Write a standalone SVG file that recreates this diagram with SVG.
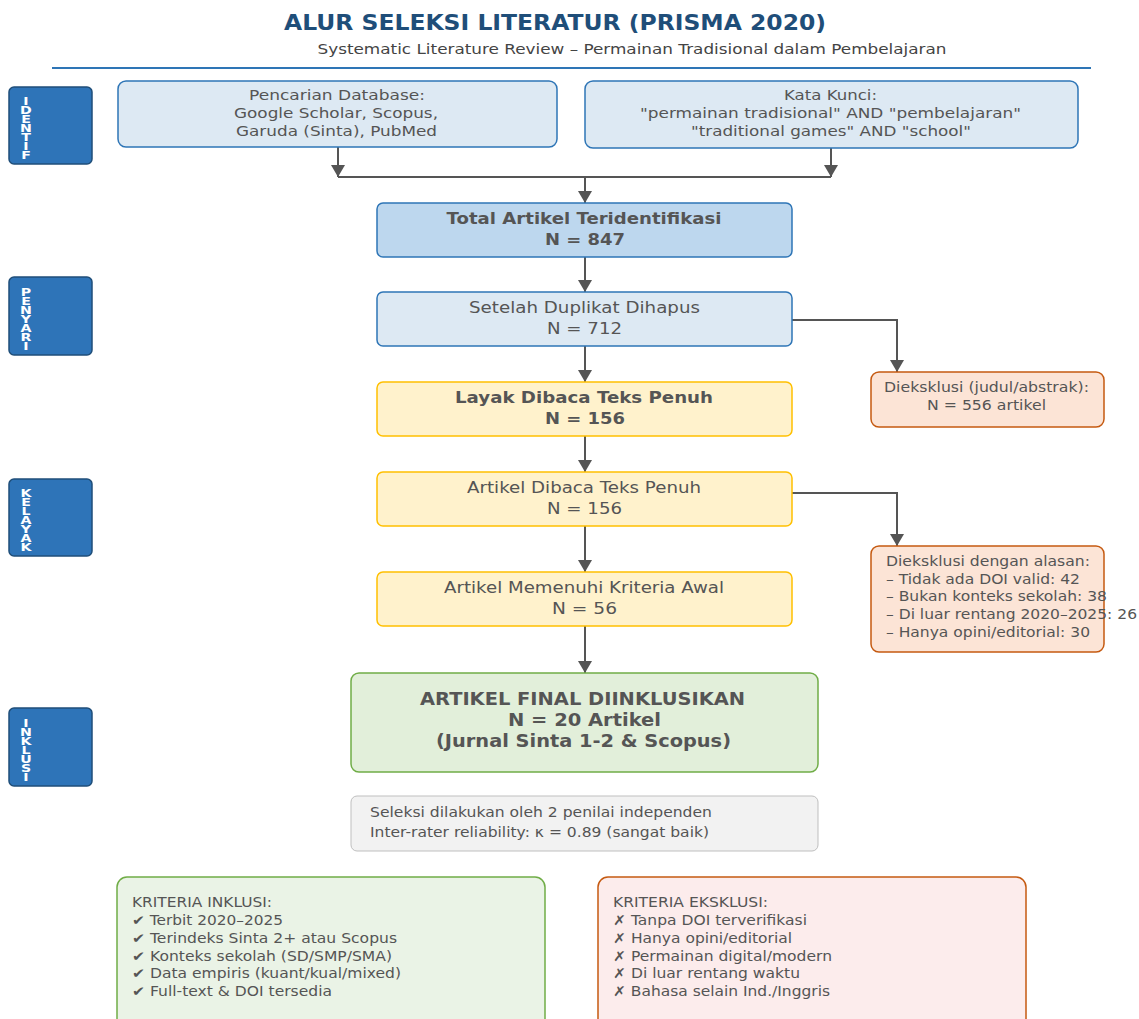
<svg xmlns="http://www.w3.org/2000/svg" width="1139" height="1019" viewBox="0 0 1139 1019">
<defs>
<marker id="ah" markerWidth="12" markerHeight="14" refX="12" refY="7" orient="auto" markerUnits="userSpaceOnUse" viewBox="0 0 12 14">
<path d="M0,0 L12,7 L0,14 Z" fill="#555"/>
</marker>
<style>
text{font-family:"DejaVu Sans","Liberation Sans",sans-serif;fill:#555}
.c{text-anchor:middle}
.b{font-weight:bold}
.tab rect{fill:#2e74b8;stroke:#1f4e79;stroke-width:1.5}
.tab text{fill:#fff;font-weight:bold;font-size:10.5px;writing-mode:vertical-rl;text-orientation:upright}
.blue rect{fill:#dde9f3;stroke:#2e75b6;stroke-width:1.5}
.blue2 rect{fill:#bdd7ee;stroke:#2e75b6;stroke-width:1.5}
.yel rect{fill:#fff2cc;stroke:#ffc000;stroke-width:1.5}
.org rect{fill:#fce4d6;stroke:#c55a11;stroke-width:1.5}
.grn rect{fill:#e2efda;stroke:#70ad47;stroke-width:1.5}
.gry rect{fill:#f2f2f2;stroke:#bfbfbf;stroke-width:1}
.m{font-size:15px}
.s{font-size:14px}
.t{font-size:13.5px}
.conn path{fill:none;stroke:#555;stroke-width:2}
</style>
</defs>
<rect width="1139" height="1019" fill="#fff"/>
<g id="title">
<text x="555" y="30" class="c b" style="font-size:22px;fill:#1f4e79" textLength="542" lengthAdjust="spacingAndGlyphs">ALUR SELEKSI LITERATUR (PRISMA 2020)</text>
<text x="632" y="54" class="c" style="font-size:14px;fill:#444" textLength="629" lengthAdjust="spacingAndGlyphs">Systematic Literature Review – Permainan Tradisional dalam Pembelajaran</text>
<line x1="52" y1="68" x2="1091" y2="68" stroke="#2e75b6" stroke-width="2"/>
</g>
<g id="tab-identifikasi" class="tab"><rect x="9" y="87" width="83" height="77" rx="5"/>
<text x="26" y="95" textLength="67" lengthAdjust="spacing" transform="translate(26,0) scale(1.35,1) translate(-26,0)">IDENTIF</text></g>
<g id="tab-penyaringan" class="tab"><rect x="9" y="277" width="83" height="78" rx="5"/>
<text x="26" y="286" textLength="67" lengthAdjust="spacing" transform="translate(26,0) scale(1.35,1) translate(-26,0)">PENYARI</text></g>
<g id="tab-kelayakan" class="tab"><rect x="9" y="479" width="83" height="77" rx="5"/>
<text x="26" y="487" textLength="67" lengthAdjust="spacing" transform="translate(26,0) scale(1.35,1) translate(-26,0)">KELAYAK</text></g>
<g id="tab-inklusi" class="tab"><rect x="9" y="708" width="83" height="78" rx="5"/>
<text x="26" y="717" textLength="67" lengthAdjust="spacing" transform="translate(26,0) scale(1.35,1) translate(-26,0)">INKLUSI</text></g>

<g id="connectors" class="conn">
<path d="M338,177 H831"/>
<path d="M338,147 V177" marker-end="url(#ah)"/>
<path d="M831,148 V177" marker-end="url(#ah)"/>
<path d="M585,177 V203" marker-end="url(#ah)"/>
<path d="M585,257 V292" marker-end="url(#ah)"/>
<path d="M585,346 V382" marker-end="url(#ah)"/>
<path d="M585,436 V472" marker-end="url(#ah)"/>
<path d="M585,526 V572" marker-end="url(#ah)"/>
<path d="M585,626 V673" marker-end="url(#ah)"/>
<path d="M792,320 H897 V372" marker-end="url(#ah)"/>
<path d="M792,493 H897 V546" marker-end="url(#ah)"/>
</g>

<g id="db" class="blue"><rect x="118" y="81" width="439" height="66" rx="8"/>
<text class="c s" x="337" y="100" textLength="176" lengthAdjust="spacingAndGlyphs">Pencarian Database:</text>
<text class="c s" x="336" y="118" textLength="204" lengthAdjust="spacingAndGlyphs">Google Scholar, Scopus,</text>
<text class="c s" x="336.5" y="136" textLength="201" lengthAdjust="spacingAndGlyphs">Garuda (Sinta), PubMed</text></g>
<g id="keywords" class="blue"><rect x="585" y="81" width="493" height="67" rx="8"/>
<text class="c s" x="830.5" y="100" textLength="93" lengthAdjust="spacingAndGlyphs">Kata Kunci:</text>
<text class="c s" x="830.5" y="118" textLength="381" lengthAdjust="spacingAndGlyphs">"permainan tradisional" AND "pembelajaran"</text>
<text class="c s" x="831" y="136" textLength="280" lengthAdjust="spacingAndGlyphs">"traditional games" AND "school"</text></g>
<g id="total" class="blue2"><rect x="377" y="203" width="415" height="54" rx="6"/>
<text class="c m b" x="584" y="224" textLength="275" lengthAdjust="spacingAndGlyphs">Total Artikel Teridentifikasi</text>
<text class="c m b" x="585" y="245" textLength="80" lengthAdjust="spacingAndGlyphs">N = 847</text></g>
<g id="dedup" class="blue"><rect x="377" y="292" width="415" height="54" rx="6"/>
<text class="c m" x="584.5" y="313" textLength="231" lengthAdjust="spacingAndGlyphs">Setelah Duplikat Dihapus</text>
<text class="c m" x="584.5" y="334" textLength="75" lengthAdjust="spacingAndGlyphs">N = 712</text></g>
<g id="excl1" class="org"><rect x="871" y="372" width="233" height="55" rx="8"/>
<text class="c t" x="986.5" y="392" textLength="205" lengthAdjust="spacingAndGlyphs">Dieksklusi (judul/abstrak):</text>
<text class="c t" x="986.5" y="410" textLength="119" lengthAdjust="spacingAndGlyphs">N = 556 artikel</text></g>
<g id="layak" class="yel"><rect x="377" y="382" width="415" height="54" rx="6"/>
<text class="c m b" x="584" y="403" textLength="258" lengthAdjust="spacingAndGlyphs">Layak Dibaca Teks Penuh</text>
<text class="c m b" x="585" y="424" textLength="80" lengthAdjust="spacingAndGlyphs">N = 156</text></g>
<g id="dibaca" class="yel"><rect x="377" y="472" width="415" height="54" rx="6"/>
<text class="c m" x="584" y="493" textLength="234" lengthAdjust="spacingAndGlyphs">Artikel Dibaca Teks Penuh</text>
<text class="c m" x="584.5" y="514" textLength="75" lengthAdjust="spacingAndGlyphs">N = 156</text></g>
<g id="excl2" class="org"><rect x="871" y="546" width="233" height="106" rx="8"/>
<text class="t" x="886" y="566" textLength="204" lengthAdjust="spacingAndGlyphs">Dieksklusi dengan alasan:</text>
<text class="t" x="886" y="584" textLength="194" lengthAdjust="spacingAndGlyphs">– Tidak ada DOI valid: 42</text>
<text class="t" x="886" y="601" textLength="221" lengthAdjust="spacingAndGlyphs">– Bukan konteks sekolah: 38</text>
<text class="t" x="886" y="619" textLength="251" lengthAdjust="spacingAndGlyphs">– Di luar rentang 2020–2025: 26</text>
<text class="t" x="886" y="637" textLength="204" lengthAdjust="spacingAndGlyphs">– Hanya opini/editorial: 30</text></g>
<g id="memenuhi" class="yel"><rect x="377" y="572" width="415" height="54" rx="6"/>
<text class="c m" x="584" y="593" textLength="280" lengthAdjust="spacingAndGlyphs">Artikel Memenuhi Kriteria Awal</text>
<text class="c m" x="584.5" y="614" textLength="65" lengthAdjust="spacingAndGlyphs">N = 56</text></g>
<g id="final" class="grn"><rect x="351" y="673" width="467" height="99" rx="8"/>
<text class="c b" style="font-size:17px" x="582.5" y="705" textLength="325" lengthAdjust="spacingAndGlyphs">ARTIKEL FINAL DIINKLUSIKAN</text>
<text class="c b" style="font-size:17px" x="584.5" y="726" textLength="153" lengthAdjust="spacingAndGlyphs">N = 20 Artikel</text>
<text class="c b" style="font-size:17px" x="583.5" y="747" textLength="295" lengthAdjust="spacingAndGlyphs">(Jurnal Sinta 1-2 &amp; Scopus)</text></g>
<g id="note" class="gry"><rect x="351" y="796" width="467" height="55" rx="6"/>
<text class="t" x="370" y="817" textLength="342" lengthAdjust="spacingAndGlyphs">Seleksi dilakukan oleh 2 penilai independen</text>
<text class="t" x="370" y="837" textLength="339" lengthAdjust="spacingAndGlyphs">Inter-rater reliability: κ = 0.89 (sangat baik)</text></g>
<g id="inklusi" class="grn"><rect x="117" y="877" width="428" height="160" rx="10" style="fill:#eaf3e6"/>
<text class="t" x="132" y="907" textLength="140" lengthAdjust="spacingAndGlyphs">KRITERIA INKLUSI:</text>
<text class="t" x="132" y="925" textLength="151" lengthAdjust="spacingAndGlyphs">✔ Terbit 2020–2025</text>
<text class="t" x="132" y="943" textLength="265" lengthAdjust="spacingAndGlyphs">✔ Terindeks Sinta 2+ atau Scopus</text>
<text class="t" x="132" y="961" textLength="260" lengthAdjust="spacingAndGlyphs">✔ Konteks sekolah (SD/SMP/SMA)</text>
<text class="t" x="132" y="978" textLength="269" lengthAdjust="spacingAndGlyphs">✔ Data empiris (kuant/kual/mixed)</text>
<text class="t" x="132" y="996" textLength="200" lengthAdjust="spacingAndGlyphs">✔ Full-text &amp; DOI tersedia</text></g>
<g id="eksklusi" class="org"><rect x="598" y="877" width="428" height="160" rx="10" style="fill:#fcecec"/>
<text class="t" x="613" y="907" textLength="155" lengthAdjust="spacingAndGlyphs">KRITERIA EKSKLUSI:</text>
<text class="t" x="613" y="925" textLength="194" lengthAdjust="spacingAndGlyphs">✗ Tanpa DOI terverifikasi</text>
<text class="t" x="613" y="943" textLength="179" lengthAdjust="spacingAndGlyphs">✗ Hanya opini/editorial</text>
<text class="t" x="613" y="961" textLength="219" lengthAdjust="spacingAndGlyphs">✗ Permainan digital/modern</text>
<text class="t" x="613" y="978" textLength="187" lengthAdjust="spacingAndGlyphs">✗ Di luar rentang waktu</text>
<text class="t" x="613" y="996" textLength="217" lengthAdjust="spacingAndGlyphs">✗ Bahasa selain Ind./Inggris</text></g>
</svg>
